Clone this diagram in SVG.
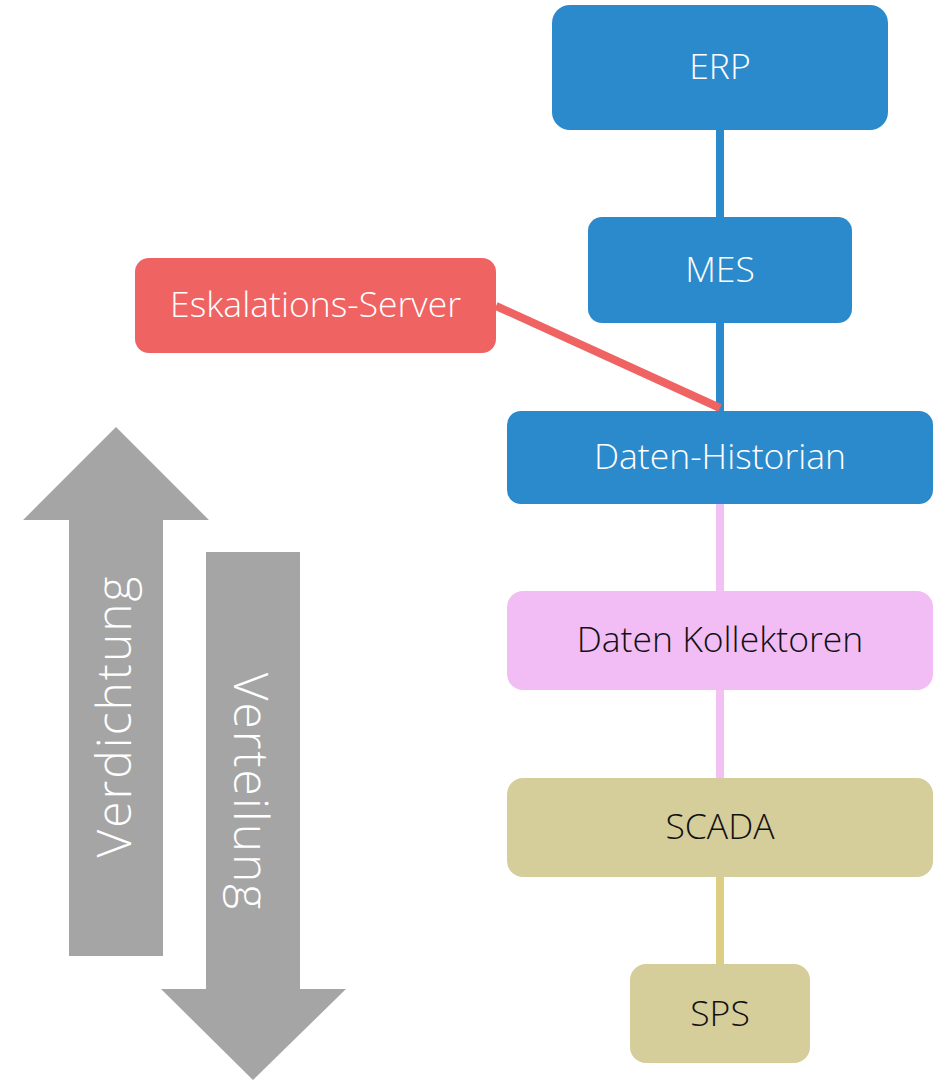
<svg xmlns="http://www.w3.org/2000/svg" width="936" height="1080" viewBox="0 0 936 1080">
  <style>
    .lbl { font-family: "Open Sans", "Liberation Sans", sans-serif; font-weight: 300; font-size: 35.5px; text-anchor: middle; dominant-baseline: central; }
    .light { fill: #ffffff; }
    .dark { fill: #111111; }
    .blue { fill: #2B8ACC; }
    .red { fill: #F06363; }
    .pink { fill: #F2BCF4; }
    .olive { fill: #D5CD9A; }
    .arrow { fill: #A5A5A5; }
    .side { font-family: "Open Sans", "Liberation Sans", sans-serif; font-weight: 300; font-size: 48px; letter-spacing: 2px; fill: #ffffff; text-anchor: middle; dominant-baseline: central; }
    .conn { stroke-width: 8; fill: none; }
  </style>
  <rect width="936" height="1080" fill="#ffffff"/>

  <!-- direction arrows -->
  <g id="arrow-up">
    <polygon class="arrow" points="116,427 209,520 163,520 163,956 69,956 69,520 23,520"/>
    <text class="side" transform="translate(112,716) rotate(-90)">Verdichtung</text>
  </g>
  <g id="arrow-down">
    <polygon class="arrow" points="206,552 300,552 300,989 346,989 253,1080 161,989 206,989"/>
    <text class="side" transform="translate(252,792) rotate(90)">Verteilung</text>
  </g>

  <!-- connectors -->
  <g id="connectors">
    <line class="conn" x1="720" y1="130" x2="720" y2="411" stroke="#2B8ACC"/>
    <line class="conn" x1="720" y1="504" x2="720" y2="591" stroke="#F3C0F3"/>
    <line class="conn" x1="720" y1="690" x2="720" y2="778" stroke="#F3C0F3"/>
    <line class="conn" x1="720" y1="877" x2="720" y2="964" stroke="#DCCF85"/>
    <line class="conn" x1="496" y1="306" x2="720" y2="408" stroke="#F06363"/>
  </g>

  <!-- nodes -->
  <g id="erp">
    <rect class="blue" x="552" y="5" width="336" height="125" rx="18"/>
    <text class="lbl light" x="720" y="65">ERP</text>
  </g>
  <g id="mes">
    <rect class="blue" x="588" y="217" width="264" height="106" rx="14"/>
    <text class="lbl light" x="720" y="268">MES</text>
  </g>
  <g id="eskalations-server">
    <rect class="red" x="135" y="258" width="361" height="95" rx="14"/>
    <text class="lbl light" x="315.5" y="303">Eskalations-Server</text>
  </g>
  <g id="daten-historian">
    <rect class="blue" x="507" y="411" width="426" height="93" rx="14"/>
    <text class="lbl light" x="720" y="455">Daten-Historian</text>
  </g>
  <g id="daten-kollektoren">
    <rect class="pink" x="507" y="591" width="426" height="99" rx="16"/>
    <text class="lbl dark" x="720" y="638">Daten Kollektoren</text>
  </g>
  <g id="scada">
    <rect class="olive" x="507" y="778" width="426" height="99" rx="16"/>
    <text class="lbl dark" x="720" y="825">SCADA</text>
  </g>
  <g id="sps">
    <rect class="olive" x="630" y="964" width="180" height="99" rx="16"/>
    <text class="lbl dark" x="720" y="1012">SPS</text>
  </g>
</svg>
